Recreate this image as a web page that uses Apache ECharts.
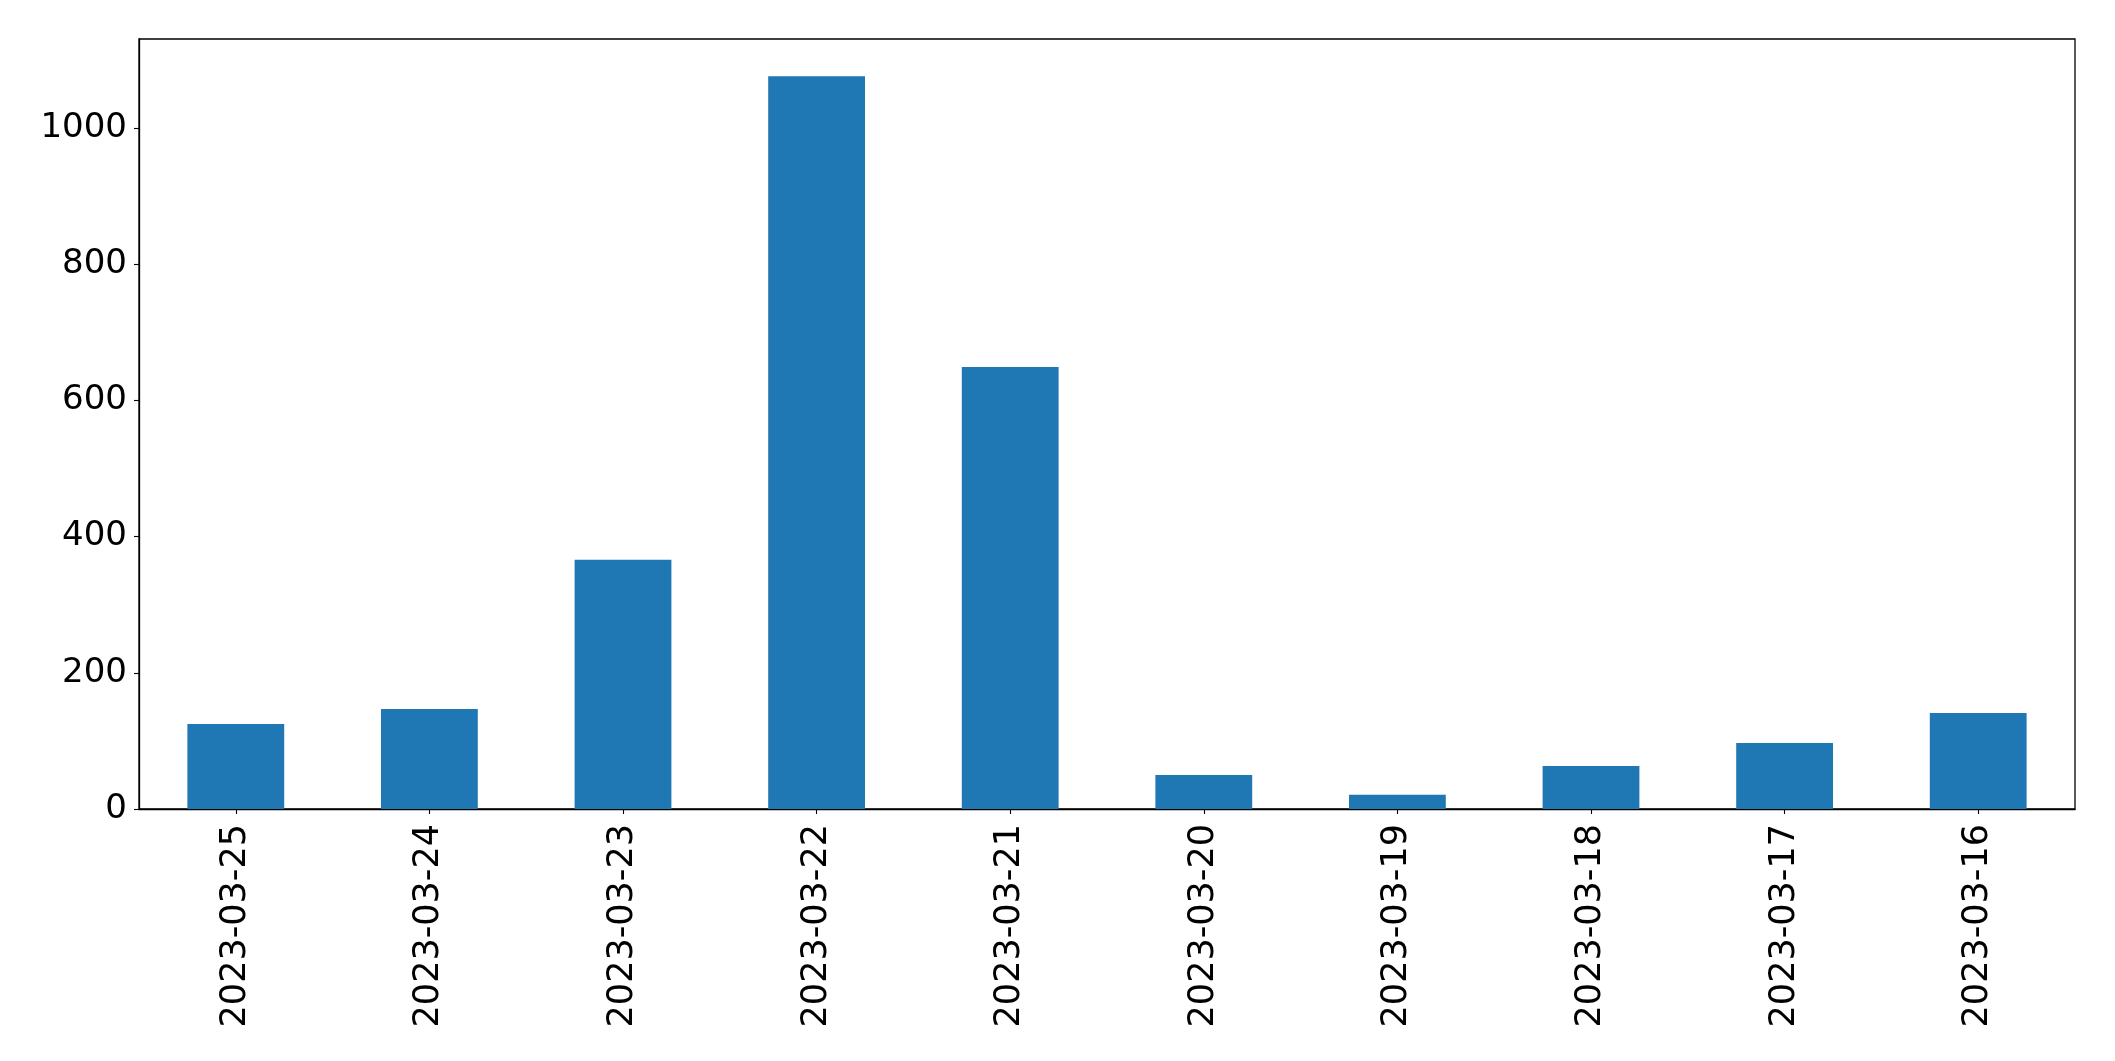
<!DOCTYPE html>
<html>
<head>
<meta charset="utf-8">
<style>
html,body{margin:0;padding:0;background:#fff;}
#chart{width:2115px;height:1061px;}
</style>
<script src="https://cdn.jsdelivr.net/npm/echarts@6/dist/echarts.min.js"></script>
</head>
<body>
<div id="chart"></div>
<script>
const categories = ['2023-03-25','2023-03-24','2023-03-23','2023-03-22','2023-03-21','2023-03-20','2023-03-19','2023-03-18','2023-03-17','2023-03-16'];
const values = [125, 147, 366, 1076, 649, 50, 21, 63, 97, 141];
const yTicks = [0, 200, 400, 600, 800, 1000];

const chart = echarts.init(document.getElementById('chart'), null, {renderer: 'canvas'});
const font = 'DejaVu Sans';
chart.setOption({
  animation: false,
  backgroundColor: '#ffffff',
  grid: {left: 139, right: 40, top: 39, bottom: 252, show: true, borderColor: '#000', borderWidth: 1.3, backgroundColor: 'transparent'},
  xAxis: {
    type: 'category',
    data: categories,
    boundaryGap: true,
    axisLine: {show: true, lineStyle: {color: '#000', width: 1.3}},
    axisTick: {show: true, alignWithLabel: true, length: 5, lineStyle: {color: '#000', width: 1.1}},
    axisLabel: {rotate: 90, margin: 15, color: '#000', fontSize: 35, fontFamily: font, interval: 0}
  },
  yAxis: {
    type: 'value',
    min: 0,
    max: 1130.7,
    interval: 200,
    splitLine: {show: false},
    axisLine: {show: true, lineStyle: {color: '#000', width: 1.3}},
    axisTick: {show: true, length: 5, customValues: yTicks, lineStyle: {color: '#000', width: 1.1}},
    axisLabel: {margin: 12, color: '#000', fontSize: 34, fontFamily: font, customValues: yTicks,
      formatter: function (v) { return String(v); }}
  },
  series: [{
    type: 'bar',
    data: values,
    barWidth: '50%',
    itemStyle: {color: '#1f77b4'}
  }]
});
</script>
</body>
</html>
